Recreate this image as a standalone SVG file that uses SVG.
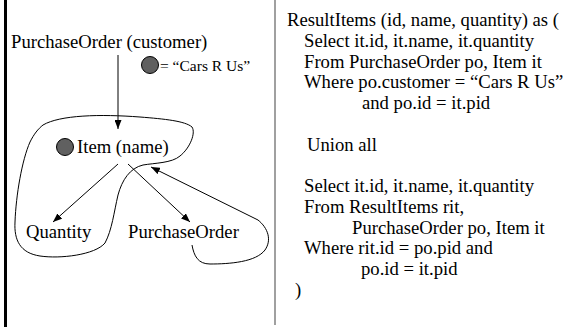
<svg xmlns="http://www.w3.org/2000/svg" width="569" height="327" viewBox="0 0 569 327">
  <style>
    .t { font-family: "Liberation Serif", "Times New Roman", serif; font-size: 18.67px; fill: #000; }
    .small { font-size: 15.5px; }
    .edge { fill: none; stroke: #000; stroke-width: 1; }
    .dot { fill: #606060; stroke: #000; stroke-width: 1; }
  </style>
  <defs>
    <marker id="arrow" markerUnits="userSpaceOnUse" markerWidth="9" markerHeight="7" refX="9" refY="3.5" orient="auto">
      <path d="M0,0 L9,3.5 L0,7 z" fill="#000"/>
    </marker>
  </defs>
  <rect width="569" height="327" fill="#fff"/>

  <!-- frame rules -->
  <line x1="5.5" y1="0" x2="5.5" y2="327" stroke="#000" stroke-width="3"/>
  <line x1="275" y1="0" x2="275" y2="325" stroke="#808080" stroke-width="1.5"/>

  <!-- graph nodes -->
  <g id="node-purchaseorder-customer">
    <text class="t" x="11" y="48">PurchaseOrder (customer)</text>
  </g>
  <g id="legend">
    <circle class="dot" cx="150" cy="65" r="8.5"/>
    <text class="t small" x="160" y="71">= “Cars R Us”</text>
  </g>
  <g id="node-item">
    <circle class="dot" cx="65" cy="147" r="8.5"/>
    <text class="t" x="77" y="153">Item (name)</text>
  </g>
  <g id="node-quantity">
    <text class="t" x="26" y="238">Quantity</text>
  </g>
  <g id="node-purchaseorder">
    <text class="t" x="128" y="238">PurchaseOrder</text>
  </g>

  <!-- connectors -->
  <g id="connectors">
    <line class="edge" x1="118" y1="55" x2="118" y2="129" marker-end="url(#arrow)"/>
    <line class="edge" x1="118" y1="164" x2="53" y2="222" marker-end="url(#arrow)"/>
    <line class="edge" x1="128" y1="164" x2="190" y2="222" marker-end="url(#arrow)"/>
    <path class="edge" d="M192,245 C194,256 198,264 210,264 C230,264 256,262 265,250 C272,240 268,228 258,220 L151,167" marker-end="url(#arrow)"/>
    <!-- region enclosing Item and Quantity -->
    <path class="edge" d="M43,125 C60,115 100,114 140,117 C165,119 185,121 192,127 C196,133 190,148 180,156 C172,163 155,163 143,165 C130,168 122,180 118,195 C114,212 112,230 105,243 C95,255 60,259 40,256 C20,253 14,240 15,222 C16,195 22,160 30,142 C34,134 38,129 43,125 Z"/>
  </g>

  <!-- recursive query text -->
  <g id="query">
    <text class="t" x="287" y="26">ResultItems (id, name, quantity) as (</text>
    <text class="t" x="304" y="46.75">Select it.id, it.name, it.quantity</text>
    <text class="t" x="304" y="67.5">From PurchaseOrder po, Item it</text>
    <text class="t" x="304" y="88.25">Where po.customer = “Cars R Us”</text>
    <text class="t" x="362" y="109">and po.id = it.pid</text>
    <text class="t" x="307" y="150.5">Union all</text>
    <text class="t" x="304" y="192">Select it.id, it.name, it.quantity</text>
    <text class="t" x="304" y="212.75">From ResultItems rit,</text>
    <text class="t" x="352" y="233.5">PurchaseOrder po, Item it</text>
    <text class="t" x="304" y="254.25">Where rit.id = po.pid and</text>
    <text class="t" x="361" y="275">po.id = it.pid</text>
    <text class="t" x="295" y="295.75">)</text>
  </g>
</svg>
